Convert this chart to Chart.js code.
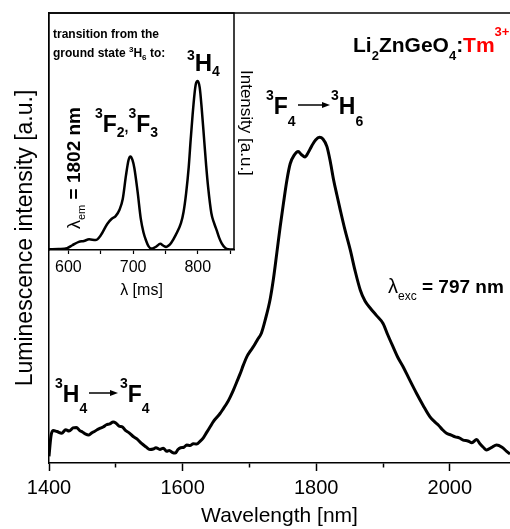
<!DOCTYPE html>
<html>
<head>
<meta charset="utf-8">
<script src="https://cdn.jsdelivr.net/npm/chart.js@4.4.0/dist/chart.umd.min.js"></script>
<style>
html, body { margin: 0; padding: 0; background: #fff; overflow: hidden; }
#wrap { position: relative; width: 510px; height: 529px; }
canvas { position: absolute; left: 0; top: 0; }
</style>
</head>
<body>
<div id="wrap">
    <canvas id="mainChart" width="510" height="529"></canvas>
    <canvas id="insetChart" width="260" height="300"></canvas>
</div>
<script>
// emission spectrum, exc 797 nm
const wavelength = [1400, 1403, 1406, 1412, 1419, 1425, 1430, 1436, 1441, 1446, 1450, 1455, 1459, 1464, 1468, 1472,
    1476, 1481, 1486, 1491, 1496, 1500, 1505, 1510, 1514, 1520, 1526, 1532, 1538, 1545, 1551, 1556, 1560, 1566, 1571,
    1576, 1580, 1585, 1589, 1593, 1597, 1602, 1606, 1611, 1616, 1621, 1626, 1631, 1636, 1641, 1646, 1651, 1656, 1661,
    1666, 1671, 1676, 1681, 1686, 1691, 1696, 1701, 1707, 1712, 1718, 1724, 1731, 1736, 1741, 1746, 1751, 1756, 1761,
    1767, 1773, 1778, 1783, 1788, 1793, 1799, 1805, 1810, 1816, 1821, 1826, 1831, 1836, 1843, 1851, 1858, 1866, 1873,
    1881, 1890, 1900, 1907, 1915, 1922, 1930, 1940, 1950, 1960, 1970, 1977, 1983, 1989, 1995, 2002, 2008, 2014, 2020,
    2027, 2033, 2040, 2045, 2050, 2055, 2062, 2070, 2078, 2085, 2090];
const luminescence = [1.5, 6.0, 7.2, 7.0, 6.6, 7.4, 7.1, 7.8, 7.9, 7.2, 6.9, 6.4, 6.2, 6.7, 7.0, 7.4,
    7.7, 8.0, 8.5, 8.7, 9.1, 8.9, 8.2, 8.0, 7.3, 6.7, 5.9, 5.3, 4.4, 3.6, 3.0, 3.1, 3.4, 3.0, 3.3,
    2.6, 2.8, 2.3, 2.2, 3.0, 3.4, 3.5, 4.0, 3.9, 4.3, 4.2, 4.8, 5.6, 6.8, 8.0, 9.2, 10.1, 11.0, 12.1,
    13.2, 14.6, 16.2, 18.0, 19.8, 21.8, 23.6, 24.8, 26.1, 27.4, 28.9, 32.0, 36.4, 41.0, 46.7, 52.5, 57.8, 62.8, 66.5,
    68.4, 69.2, 68.5, 68.0, 69.0, 70.4, 71.8, 72.4, 72.0, 70.3, 67.0, 62.9, 59.5, 56.2, 51.8, 47.3, 42.8, 38.4, 36.0,
    34.4, 32.8, 31.0, 28.5, 25.8, 23.5, 21.4, 18.4, 15.5, 12.8, 10.3, 9.2, 8.4, 7.4, 6.6, 6.2, 5.8, 5.6, 5.1,
    4.9, 4.5, 5.2, 4.3, 3.5, 2.9, 3.4, 4.0, 3.5, 2.6, 2.0];

// excitation spectrum (inset), em 1802 nm
const excWavelength = [570, 585, 598, 606, 616, 624, 632, 642, 650, 660, 667, 673, 679, 684, 689, 693, 696, 699,
    702, 707, 712, 716, 720, 724, 728, 733, 736, 742, 747, 751, 755, 759, 766, 774, 778, 782, 786, 789, 792, 795,
    797, 800, 803, 806, 810, 813, 816, 821, 825, 829, 833, 837, 842, 847, 856];
const excIntensity = [0.3, 0.4, 0.8, 2.0, 3.4, 3.8, 4.5, 4.2, 6.2, 11.0, 13.2, 14.3, 17.0, 21.5, 31.5, 38.0, 39.5, 38.0,
    34.5, 24.5, 13.0, 7.5, 4.0, 1.5, 0.6, 1.0, 1.5, 2.6, 1.8, 1.3, 1.9, 3.1, 6.4, 11.3, 16.0, 24.0, 35.0, 46.5, 57.0, 66.0,
    70.0, 71.3, 68.5, 60.0, 46.0, 35.5, 26.5, 15.5, 11.5, 8.5, 5.2, 2.8, 1.0, 0.3, 0.2];

const mainTickMarks = [1400, 1500, 1600, 1700, 1800, 1900, 2000];
const mainTickLabels = [1400, 1600, 1800, 2000];
const insetTickMarks = [600, 650, 700, 750, 800, 850];
const insetTickLabels = [600, 700, 800];

const FONT = "'Liberation Sans', Arial, sans-serif";
Chart.defaults.font.family = FONT;
Chart.defaults.color = '#000';

function richText(ctx, x, y, parts) {
    for (const [t, size, bold, dy, color] of parts) {
        ctx.font = (bold ? 'bold ' : '') + size + 'px ' + FONT;
        ctx.fillStyle = color || '#000';
        ctx.textBaseline = 'alphabetic';
        ctx.textAlign = 'left';
        ctx.fillText(t, x, y + (dy || 0));
        x += ctx.measureText(t).width;
    }
    return x;
}

function arrow(ctx, x1, x2, y) {
    ctx.strokeStyle = '#000';
    ctx.fillStyle = '#000';
    ctx.lineWidth = 1.5;
    ctx.beginPath();
    ctx.moveTo(x1, y);
    ctx.lineTo(x2 - 6, y);
    ctx.stroke();
    ctx.beginPath();
    ctx.moveTo(x2, y);
    ctx.lineTo(x2 - 8, y - 3);
    ctx.lineTo(x2 - 8, y + 3);
    ctx.closePath();
    ctx.fill();
}

const mainLabels = {
    id: 'mainLabels',
    afterDraw(chart) {
        const ctx = chart.ctx;
        const a = chart.chartArea;
        ctx.save();
        // top frame
        ctx.strokeStyle = '#000';
        ctx.lineWidth = 1.5;
        ctx.beginPath();
        ctx.moveTo(a.left, a.top);
        ctx.lineTo(a.right, a.top);
        ctx.stroke();

        const red = '#ff0000';
        richText(ctx, 353, 52, [['Li', 21, 1], ['2', 13, 1, 8], ['ZnGeO', 21, 1], ['4', 13, 1, 8], [':', 21, 1],
            ['Tm', 21, 1, 0, red], ['3+', 13, 1, -16, red]]);

        richText(ctx, 266, 114, [['3', 14, 1, -14], ['F', 23, 1], ['4', 14, 1, 12]]);
        arrow(ctx, 298, 330, 105);
        richText(ctx, 331, 114, [['3', 14, 1, -14], ['H', 23, 1], ['6', 14, 1, 12]]);

        richText(ctx, 55, 402, [['3', 14, 1, -14], ['H', 23, 1], ['4', 14, 1, 11]]);
        arrow(ctx, 89, 118, 393);
        richText(ctx, 120, 402, [['3', 14, 1, -14], ['F', 23, 1], ['4', 14, 1, 11]]);

        richText(ctx, 388, 293, [['λ', 20, 0], ['exc', 12, 0, 7], [' = 797 nm', 19, 1]]);
        ctx.restore();
    }
};

const insetLabels = {
    id: 'insetLabels',
    afterDraw(chart) {
        const ctx = chart.ctx;
        const a = chart.chartArea;
        ctx.save();
        ctx.strokeStyle = '#000';
        ctx.lineWidth = 1.5;
        ctx.beginPath();
        ctx.moveTo(a.left, a.top);
        ctx.lineTo(a.right, a.top);
        ctx.lineTo(a.right, a.bottom);
        ctx.stroke();

        richText(ctx, 53, 37.5, [['transition from the', 12, 1]]);
        richText(ctx, 53, 57, [['ground state ', 12, 1], ['3', 8, 1, -5], ['H', 12, 1], ['6', 8, 1, 3], [' to:', 12, 1]]);

        richText(ctx, 187, 70.7, [['3', 14, 1, -11], ['H', 24, 1], ['4', 14, 1, 5]]);
        richText(ctx, 95, 132, [['3', 14, 1, -14], ['F', 23, 1], ['2', 14, 1, 5], [',', 14, 1], ['3', 14, 1, -14],
            ['F', 23, 1], ['3', 14, 1, 5]]);

        ctx.save();
        ctx.translate(80, 229);
        ctx.rotate(-Math.PI / 2);
        richText(ctx, 0, 0, [['λ', 18, 0], ['em', 11, 0, 5], [' = 1802 nm', 19, 1]]);
        ctx.restore();

        ctx.save();
        ctx.translate(241, 70);
        ctx.rotate(Math.PI / 2);
        richText(ctx, 0, 0, [['Intensity [a.u.]', 17, 0]]);
        ctx.restore();
        ctx.restore();
    }
};

new Chart(document.getElementById('mainChart'), {
    type: 'line',
    data: {
        datasets: [{
            data: wavelength.map((x, i) => ({x: x, y: luminescence[i]})),
            borderColor: '#000',
            borderWidth: 3,
            pointRadius: 0,
            cubicInterpolationMode: 'monotone',
            fill: false
        }]
    },
    options: {
        responsive: false,
        animation: false,
        devicePixelRatio: 1,
        layout: {padding: {top: 13, right: 0, left: 0, bottom: 0}},
        plugins: {legend: {display: false}, tooltip: {enabled: false}},
        scales: {
            x: {
                type: 'linear',
                min: 1400,
                max: 2090,
                afterBuildTicks: s => { s.ticks = mainTickMarks.map(v => ({value: v})); },
                afterFit: s => { s.height = 66; },
                ticks: {
                    autoSkip: false,
                    maxRotation: 0,
                    padding: 5,
                    font: {size: 20},
                    color: '#000',
                    callback: v => mainTickLabels.includes(v) ? String(v) : ''
                },
                grid: {
                    drawOnChartArea: false,
                    tickLength: 8,
                    tickColor: '#000',
                    tickWidth: 1.5,
                    tickBorderDash: c => (c.tick && mainTickLabels.includes(c.tick.value)) ? [] : [4, 20]
                },
                border: {color: '#000', width: 1.5},
                title: {display: true, text: 'Wavelength [nm]', font: {size: 21}, color: '#000', padding: {top: 0, bottom: 0}}
            },
            y: {
                min: 0,
                max: 100,
                afterFit: s => { s.width = 49; },
                ticks: {display: false},
                grid: {display: false},
                border: {color: '#000', width: 1.5},
                title: {display: true, text: 'Luminescence intensity [a.u.]', font: {size: 23}, color: '#000', padding: {top: 12, bottom: 0}}
            }
        }
    },
    plugins: [mainLabels]
});

new Chart(document.getElementById('insetChart'), {
    type: 'line',
    data: {
        datasets: [{
            data: excWavelength.map((x, i) => ({x: x, y: excIntensity[i]})),
            borderColor: '#000',
            borderWidth: 2.5,
            pointRadius: 0,
            cubicInterpolationMode: 'monotone',
            fill: false
        }]
    },
    options: {
        responsive: false,
        animation: false,
        devicePixelRatio: 1,
        layout: {padding: {top: 13, right: 26, left: 0, bottom: 0}},
        plugins: {legend: {display: false}, tooltip: {enabled: false}},
        scales: {
            x: {
                type: 'linear',
                min: 570,
                max: 856,
                afterBuildTicks: s => { s.ticks = insetTickMarks.map(v => ({value: v})); },
                afterFit: s => { s.height = 50; },
                ticks: {
                    autoSkip: false,
                    maxRotation: 0,
                    padding: 4,
                    font: {size: 16},
                    color: '#000',
                    callback: v => insetTickLabels.includes(v) ? String(v) : ''
                },
                grid: {drawOnChartArea: false, tickLength: 4, tickColor: '#000', tickWidth: 1.2},
                border: {color: '#000', width: 1.5},
                title: {display: true, text: 'λ [ms]', font: {size: 16}, color: '#000', padding: {top: 0, bottom: 0}}
            },
            y: {
                min: 0,
                max: 100,
                afterFit: s => { s.width = 49; },
                ticks: {display: false},
                grid: {display: false},
                border: {color: '#000', width: 1.5}
            }
        }
    },
    plugins: [insetLabels]
});
</script>
</body>
</html>
